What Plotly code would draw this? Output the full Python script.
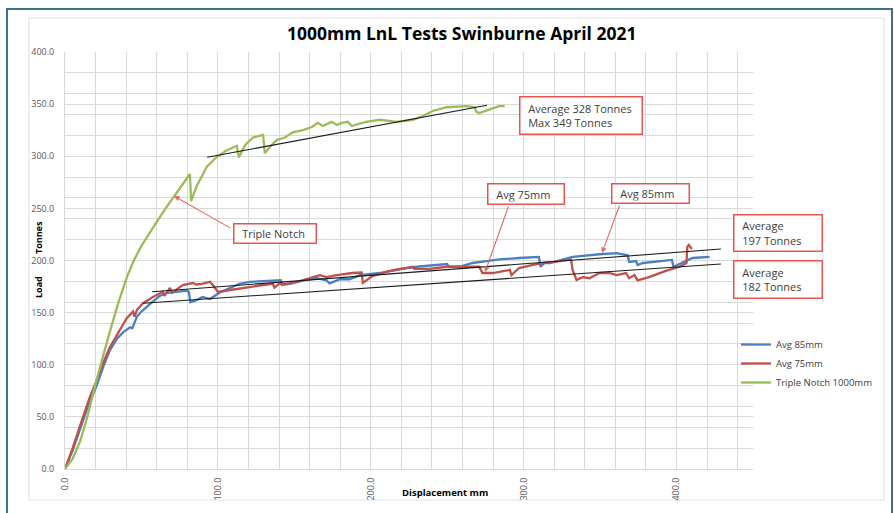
import plotly.graph_objects as go

# ---------------- data ----------------
green_x = [0, 5, 10, 15, 18.3, 21.6, 25, 29.4, 35, 40.5, 45, 50, 55, 60, 66.7, 72, 77, 81.7,
           82.5, 86, 92.8, 99, 105, 112.4, 113.7, 118, 123, 129.6, 130.7, 134, 138.5, 143.8, 149,
           155.6, 161.4, 165.4, 168.6, 174.5, 177.8, 181, 185, 187.6, 189.5, 197, 206, 214, 217,
           227.5, 234, 240.5, 249.6, 262.7, 268, 269, 271, 277.8, 284, 287.6]
green_y = [0, 10, 27, 52, 72, 89, 109, 132, 160, 184, 200, 214, 226, 237, 252, 263, 273, 283,
           257, 271, 290, 299, 305, 310, 299, 311, 318, 320.4, 302.8, 309, 315.6, 318, 323,
           325, 328, 332, 329, 333, 330, 332, 333, 329, 330, 333, 335, 334, 333,
           335, 338.6, 343.4, 347, 348, 347, 342.5, 341.5, 345, 348, 348]

blue_x = [0, 5, 9.8, 15, 20.7, 25, 29.4, 34, 38, 42.5, 44, 47, 50, 53.6, 57, 62, 66.7, 73, 79.6,
          81, 82, 86, 90, 94.8, 101, 107.8, 114, 121, 129.4, 138.6, 141, 142, 147, 156, 164.7,
          171, 173, 180, 186, 193, 206, 219, 230, 250, 251, 258, 266.6, 275.8, 284, 297, 310,
          311, 313.7, 317, 328, 332, 349.7, 360.8, 368, 369, 373.6, 374.5, 378, 384, 393, 397,
          398, 402, 406, 410.5, 421.6]
blue_y = [0, 18, 38, 60, 80, 98, 114, 125, 131, 136, 135, 146, 151, 156, 160, 166, 169, 170, 171,
          170, 160, 162, 165, 163, 169, 173.6, 177.5, 179.5, 180, 181, 181, 176.5, 177.5, 181, 183,
          181, 178, 182, 182, 186, 188, 192, 194, 196.6, 194, 194, 197.6, 199.5, 201, 202.4, 203.4,
          194, 197.6, 197.6, 201.4, 203.4, 206, 207, 205, 198.6, 199.5, 195.7, 197.6, 198.6, 200.5, 200.5,
          194, 196.6, 199.5, 202.4, 203.4]

red_x = [0, 5, 11.8, 16, 20.7, 25, 29.4, 33, 36, 40.5, 44.5, 45.5, 47, 51, 57.5, 64, 65, 68.6, 70,
         74, 77, 83.7, 86, 89.5, 94.8, 96.7, 100, 108, 116, 123, 129.4, 136, 137, 140, 145, 151.6,
         160, 166.7, 171, 177.8, 188, 194, 194.8, 201, 210, 221, 227.5, 228.5, 238.6, 249.7, 258,
         271, 273, 280, 284, 291, 292, 297, 306, 312.4, 320, 328, 331, 332, 334.6, 338.6, 343,
         349.7, 356, 360.8, 367, 369, 372.5, 374.5, 382, 393, 402, 406.5, 407, 408, 410]
red_y = [0, 20, 50, 68, 85, 102, 117, 126, 133, 145, 151, 146, 152.5, 159, 165, 170, 166, 173.6, 169,
         173.6, 176.5, 178.4, 177, 177.5, 179.5, 176.5, 169.8, 171.7, 173.6, 174.6, 176.5, 177.5, 174, 177.5, 177.5, 179.4,
         183, 186, 184, 186, 188, 188.5, 178.4, 185, 189, 192, 194, 192, 192, 194, 194,
         194, 188, 188, 189, 191, 186, 192.8, 195.7, 197.6, 198.6, 200.5, 201, 191, 181.3, 184, 183,
         188, 188, 186, 188, 183, 186, 181, 184, 190, 194, 197.6, 213, 215, 211]

# average (trend) lines
avg_green_x = [93, 276]
avg_green_y = [299, 349]
avg_blue_x = [57, 429]
avg_blue_y = [170, 211]
avg_red_x = [51, 429]
avg_red_y = [159, 196.6]

series_names = ["Avg 85mm", "Avg 75mm", "Triple Notch 1000mm"]
title_text = "1000mm LnL Tests Swinburne April 2021"

# ---------------- figure ----------------
W, H = 894, 513
L, R, T, B = 65, 141, 52, 44
PW, PH = W - L - R, H - T - B


def px(xp):
    return (xp - L) / PW


def py(yp):
    return (H - B - yp) / PH


FONT = "'Open Sans', Lato, sans-serif"
BLUE = "#4a7fc1"
RED = "#c0504d"
GREEN = "#9bbb59"

fig = go.Figure()
fig.add_trace(go.Scatter(x=blue_x, y=blue_y, mode="lines", name=series_names[0],
                         line=dict(color=BLUE, width=2.3), legendgroup="a"))
fig.add_trace(go.Scatter(x=red_x, y=red_y, mode="lines", name=series_names[1],
                         line=dict(color=RED, width=2.3), legendgroup="b"))
fig.add_trace(go.Scatter(x=green_x, y=green_y, mode="lines", name=series_names[2],
                         line=dict(color=GREEN, width=2.3), legendgroup="c"))
for ax_, ay_ in [(avg_green_x, avg_green_y), (avg_blue_x, avg_blue_y), (avg_red_x, avg_red_y)]:
    fig.add_trace(go.Scatter(x=ax_, y=ay_, mode="lines", showlegend=False,
                             line=dict(color="#1a1a1a", width=1.1)))

GRID = "#d9d9d9"
TICKC = "#595959"

fig.update_xaxes(range=[0, 450], dtick=100, tick0=0, tickformat=".1f", tickangle=-90,
                 showgrid=True, gridcolor=GRID, gridwidth=1,
                 minor=dict(dtick=20, showgrid=True, gridcolor=GRID, gridwidth=1),
                 showline=True, linecolor=GRID, zeroline=False,
                 tickfont=dict(family=FONT, size=9, color=TICKC), ticklabelstandoff=4)
fig.update_yaxes(range=[0, 400], dtick=50, tick0=0, tickformat=".1f",
                 showgrid=True, gridcolor=GRID, gridwidth=1,
                 minor=dict(dtick=20, showgrid=True, gridcolor=GRID, gridwidth=1),
                 showline=True, linecolor=GRID, zeroline=False,
                 tickfont=dict(family=FONT, size=9, color=TICKC), ticklabelstandoff=8)

annotations = []


def label(text, x, y, size, angle=0):
    annotations.append(dict(text=text, x=px(x), y=py(y), xref="paper", yref="paper",
                            xanchor="center", yanchor="middle", textangle=angle, showarrow=False,
                            font=dict(family=FONT, size=size, color="#000000")))


label("<b>" + title_text + "</b>", 462, 33, 17.5)
label("<b>Displacement mm</b>", 445, 492, 9.5)
label("<b>Load</b>", 38, 287, 9, -90)
label("<b>Tonnes</b>", 38, 238, 9, -90)

BOXC = "#e8564f"
TXT = "#404040"
PAD = "\u00a0\u00a0"


def box(lines, x0, y0, x1, y1):
    text = "<br>".join(PAD + s for s in lines)
    annotations.append(dict(text=text, x=px((x0 + x1) / 2), y=py((y0 + y1) / 2), xref="paper", yref="paper",
                            xanchor="center", yanchor="middle", showarrow=False, align="left",
                            width=x1 - x0 - 7, height=y1 - y0 - 7, borderpad=2, borderwidth=1.5,
                            bordercolor=BOXC, bgcolor="white",
                            font=dict(family=FONT, size=11, color=TXT)))


box(["Average 328 Tonnes", "Max 349 Tonnes"], 519, 96, 643, 135)
box(["Avg 75mm"], 487, 183, 565, 205)
box(["Avg 85mm"], 611, 183, 690, 204)
box(["Triple Notch"], 233, 223, 317, 244)
box(["Average", "197 Tonnes"], 733, 214, 823, 252)
box(["Average", "182 Tonnes"], 733, 260, 823, 299)

ARR = "#e06a64"


def arrow(hx, hy, tx, ty):
    annotations.append(dict(text="", x=(hx - L) * 450 / PW, y=(H - B - hy) * 400 / PH,
                            xref="x", yref="y", ax=tx - hx, ay=ty - hy, axref="pixel", ayref="pixel",
                            showarrow=True, arrowhead=2, arrowsize=1, arrowwidth=1.1, arrowcolor=ARR))


arrow(174, 196, 232, 229)
arrow(485, 272, 509, 205)
arrow(602, 253, 620, 204)

shapes = [
    dict(type="rect", xref="paper", yref="paper", x0=px(29), x1=px(884), y0=py(500), y1=py(18),
         line=dict(color="#e3e3e3", width=1.2), layer="below"),
    dict(type="rect", xref="paper", yref="paper", x0=px(7), x1=px(892), y0=py(530), y1=py(9),
         line=dict(color="#3d6f8e", width=2), layer="below"),
]

fig.update_layout(
    width=W, height=H, margin=dict(l=L, r=R, t=T, b=B),
    paper_bgcolor="white", plot_bgcolor="white",
    annotations=annotations, shapes=shapes,
    showlegend=True,
    legend=dict(x=px(736), y=py(330), xanchor="left", yanchor="top", bgcolor="rgba(0,0,0,0)",
                font=dict(family=FONT, size=9.5, color=TXT), itemwidth=30, tracegroupgap=7,
                traceorder="normal"),
)

fig.write_html("out.html", config={"displayModeBar": False},
               post_script="document.body.style.margin='0px';")
